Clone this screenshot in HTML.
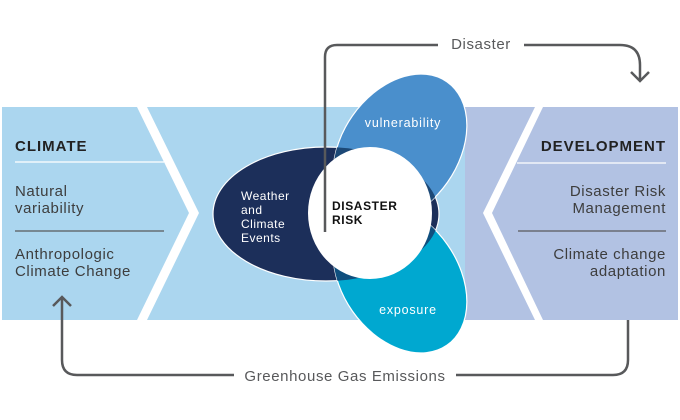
<!DOCTYPE html>
<html><head><meta charset="utf-8"><style>
html,body{margin:0;padding:0;background:#fff;}
svg{display:block;font-family:"Liberation Sans",sans-serif;}
</style></head><body>
<svg width="680" height="420" viewBox="0 0 680 420" xmlns="http://www.w3.org/2000/svg">
<defs>
<clipPath id="cn"><ellipse cx="326" cy="214" rx="113" ry="67"/></clipPath>
</defs>
<polygon points="2,107 137,107 189,213 137,320 2,320" fill="#abd6ef"/>
<polygon points="147,107 470,107 470,320 147,320 199,213" fill="#abd6ef"/>
<polygon points="465,107 535,107 483,213 535,320 465,320" fill="#b2c2e3"/>
<polygon points="543,107 678,107 678,320 543,320 492,213" fill="#b2c2e3"/>

<ellipse cx="326" cy="214" rx="113" ry="67" fill="#1c2f5a" stroke="#fff" stroke-width="1.2"/>
<ellipse cx="400" cy="149" rx="58" ry="82" transform="rotate(35 400 149)" fill="#4a8fcc" stroke="#fff" stroke-width="1.2"/>
<ellipse cx="400" cy="278" rx="58" ry="82" transform="rotate(-35 400 278)" fill="#00a8d0" stroke="#fff" stroke-width="1.2"/>
<g clip-path="url(#cn)">
<ellipse cx="400" cy="149" rx="58" ry="82" transform="rotate(35 400 149)" fill="#1c4876"/>
<ellipse cx="400" cy="278" rx="58" ry="82" transform="rotate(-35 400 278)" fill="#0f4f7e"/>
</g>
<ellipse cx="370" cy="213" rx="62" ry="66" fill="#fff"/>

<g fill="none" stroke="#58595b" stroke-width="2.5">
<path d="M325,232 V57 Q325,45 337,45 H438"/>
<path d="M524,45 H620 Q640,45 640,65 V80"/>
<path d="M631,72 L640,81 L649,72"/>
<path d="M628,320 V360 Q628,375 613,375 H456"/>
<path d="M234,375 H77 Q62,375 62,360 V298"/>
<path d="M53,306 L62,297 L71,306"/>
</g>
<g font-size="15" fill="#58595b" text-anchor="middle" letter-spacing="0.6">
<text x="481" y="49">Disaster</text>
<text x="345" y="381">Greenhouse Gas Emissions</text>
</g>

<g font-size="15" fill="#3d3d3d" letter-spacing="0.6">
<text x="15" y="151" font-weight="bold" fill="#222" letter-spacing="1">CLIMATE</text>
<text x="15" y="196">Natural</text>
<text x="15" y="213">variability</text>
<text x="15" y="259">Anthropologic</text>
<text x="15" y="276">Climate Change</text>
</g>
<line x1="15" y1="162" x2="164" y2="162" stroke="#fff" stroke-width="1.2"/>
<line x1="15" y1="231" x2="164" y2="231" stroke="#58595b" stroke-width="1.2"/>

<g font-size="15" fill="#3d3d3d" text-anchor="end" letter-spacing="0.6">
<text x="666" y="151" font-weight="bold" fill="#222" letter-spacing="1">DEVELOPMENT</text>
<text x="666" y="196">Disaster Risk</text>
<text x="666" y="213">Management</text>
<text x="666" y="259">Climate change</text>
<text x="666" y="276">adaptation</text>
</g>
<line x1="517" y1="163" x2="666" y2="163" stroke="#fff" stroke-width="1.2"/>
<line x1="518" y1="231" x2="666" y2="231" stroke="#58595b" stroke-width="1.2"/>

<g font-size="12" fill="#fff" letter-spacing="0.5">
<text x="241" y="200">Weather</text>
<text x="241" y="214">and</text>
<text x="241" y="228">Climate</text>
<text x="241" y="242">Events</text>
<text x="403" y="127" text-anchor="middle" font-size="12.5" letter-spacing="0.8">vulnerability</text>
<text x="408" y="314" text-anchor="middle" font-size="12.5" letter-spacing="0.8">exposure</text>
</g>
<text x="332" y="210" font-size="12" font-weight="bold" fill="#111" letter-spacing="0.6">DISASTER</text>
<text x="332" y="224" font-size="12" font-weight="bold" fill="#111" letter-spacing="0.6">RISK</text>
</svg>
</body></html>
